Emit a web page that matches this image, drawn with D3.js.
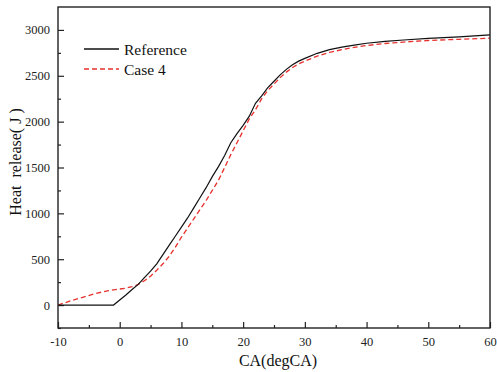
<!DOCTYPE html>
<html>
<head>
<meta charset="utf-8">
<script src="https://cdn.jsdelivr.net/npm/d3@7"></script>
<style>
  body { margin: 0; background: #fff; }
  text { font-family: "Liberation Serif", "Times New Roman", serif; }
</style>
</head>
<body>
<div id="chart"></div>
<script>
// crank angle (degCA) and cumulative heat release (J)
const refCA = [-10, -1, 0, 1, 2, 3, 4, 5, 6, 7, 8, 9, 10, 11, 12, 13, 14, 15, 16, 17, 18, 19, 20, 21, 22, 23, 24, 25, 26, 27, 28, 29, 30, 32, 34, 36, 38, 40, 43, 46, 50, 55, 60];
const refHR = [0, 0, 55, 110, 170, 225, 300, 370, 450, 550, 650, 750, 850, 950, 1060, 1170, 1280, 1400, 1510, 1630, 1770, 1870, 1960, 2060, 2200, 2280, 2370, 2440, 2510, 2570, 2620, 2660, 2690, 2745, 2785, 2812, 2835, 2855, 2875, 2890, 2908, 2925, 2945];

const caseCA = [-10, -8, -6, -4, -2, 0, 1, 2, 3, 4, 5, 6, 7, 8, 9, 10, 11, 12, 13, 14, 15, 16, 17, 18, 19, 20, 21, 22, 23, 24, 25, 26, 27, 28, 29, 30, 32, 34, 36, 38, 40, 43, 46, 50, 55, 60];
const caseHR = [0, 45, 85, 125, 155, 175, 185, 200, 225, 265, 315, 380, 450, 530, 630, 740, 840, 940, 1040, 1140, 1250, 1360, 1500, 1640, 1770, 1900, 2030, 2130, 2250, 2340, 2410, 2480, 2540, 2590, 2630, 2660, 2715, 2755, 2785, 2810, 2830, 2852, 2868, 2885, 2898, 2910];

const xTicks = [-10, 0, 10, 20, 30, 40, 50, 60];
const yTicks = [0, 500, 1000, 1500, 2000, 2500, 3000];
const seriesNames = ["Reference", "Case 4"];

const margin = {top: 7, left: 58, bottom: 44, right: 7};
const W = 497, H = 372;
const width = W - margin.left - margin.right;
const height = H - margin.top - margin.bottom;

const svg = d3.select("#chart")
  .append("svg")
  .attr("width", W)
  .attr("height", H)
  .append("g")
  .attr("transform", `translate(${margin.left}, ${margin.top})`);

const xScale = d3.scaleLinear().domain([-10, 60]).range([0, width]);
const yScale = d3.scaleLinear().domain([-250, 3250]).range([height, 0]);

// minor ticks
svg.append("g")
  .attr("transform", `translate(0, ${height})`)
  .call(d3.axisBottom(xScale).tickValues(d3.range(-5, 60, 10)).tickSize(-3).tickFormat(""))
  .call(g => g.select(".domain").remove());
svg.append("g")
  .call(d3.axisLeft(yScale).tickValues(d3.range(-250, 3250, 500)).tickSize(-3).tickFormat(""))
  .call(g => g.select(".domain").remove());

// major ticks
const xAxis = svg.append("g")
  .attr("transform", `translate(0, ${height})`)
  .call(d3.axisBottom(xScale).tickValues(xTicks).tickSize(-6).tickPadding(9).tickFormat(d => String(d)));
const yAxis = svg.append("g")
  .call(d3.axisLeft(yScale).tickValues(yTicks).tickSize(-6).tickPadding(8).tickFormat(d => String(d)));

[xAxis, yAxis].forEach(a => {
  a.select(".domain").remove();
  a.attr("font-family", null);
  a.selectAll("text").style("font-size", "12.5px").style("font-family", "'Liberation Serif', serif").attr("fill", "#222");
});
svg.selectAll(".tick line").attr("stroke", "#222").attr("stroke-width", 1.2);

const line = d3.line()
  .x(d => xScale(d[0]))
  .y(d => yScale(d[1]));

svg.append("path")
  .datum(caseCA.map((c, i) => [c, caseHR[i]]))
  .attr("fill", "none")
  .attr("stroke", "#e8302c")
  .attr("stroke-width", 1.3)
  .attr("stroke-dasharray", "5,3")
  .attr("d", line);

svg.append("path")
  .datum(refCA.map((c, i) => [c, refHR[i]]))
  .attr("fill", "none")
  .attr("stroke", "#111")
  .attr("stroke-width", 1.2)
  .attr("d", line);

// frame
svg.append("rect")
  .attr("width", width)
  .attr("height", height)
  .attr("fill", "none")
  .attr("stroke", "#222")
  .attr("stroke-width", 1.4);

// legend
const legend = svg.selectAll(".legend")
  .data(seriesNames)
  .enter()
  .append("g")
  .attr("transform", (d, i) => `translate(26, ${42 + i * 20})`);
legend.append("line")
  .attr("x1", 0).attr("x2", 35)
  .attr("stroke", (d, i) => i == 0 ? "#111" : "#e8302c")
  .attr("stroke-width", 1.3)
  .attr("stroke-dasharray", (d, i) => i == 0 ? null : "5,3");
legend.append("text")
  .attr("x", 40)
  .attr("y", 5.5)
  .style("font-size", "15.5px")
  .attr("fill", "#111")
  .text(d => d);

// axis titles
svg.append("text")
  .attr("x", 220)
  .attr("y", 359)
  .attr("text-anchor", "middle")
  .style("font-size", "16px")
  .attr("fill", "#111")
  .text("CA(degCA)");

svg.append("text")
  .attr("transform", `translate(-37, 155) rotate(-90)`)
  .attr("text-anchor", "middle")
  .style("font-size", "16px")
  .style("white-space", "pre")
  .attr("fill", "#111")
  .text("Heat  release( J )");
</script>
</body>
</html>
